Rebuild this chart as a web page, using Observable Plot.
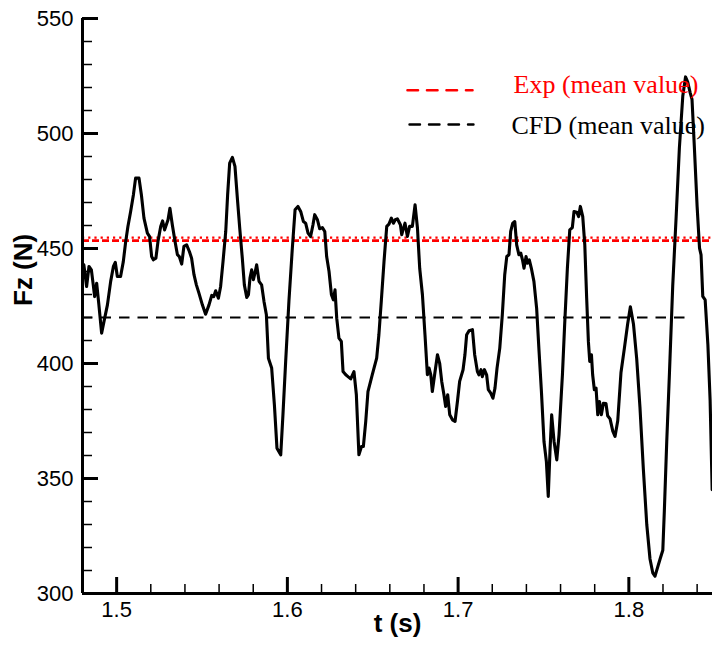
<!DOCTYPE html>
<html><head><meta charset="utf-8">
<script src="https://cdn.jsdelivr.net/npm/d3@7"></script>
<script src="https://cdn.jsdelivr.net/npm/@observablehq/plot@0.6"></script>
<style>body{margin:0;background:#fff}</style>
</head><body><div id="chart"></div>
<script>
const tValues = [
1.4808,1.4824,1.4838,1.4852,1.4863,1.4871,1.4883,1.4896,1.4912,1.4926,1.4946,1.4965,1.4981,1.4992,1.5004,1.5023,1.5039,1.5053,1.5066,1.5082,1.5098,1.5111,1.5131,1.5145,1.5160,1.5180,1.5193,1.5205,1.5215,1.5230,1.5242,1.5258,1.5269,1.5281,1.5301,1.5312,1.5326,1.5342,1.5356,1.5367,1.5381,1.5394,1.5410,1.5426,
1.5439,1.5453,1.5467,1.5482,1.5502,1.5521,1.5541,1.5557,1.5569,1.5580,1.5596,1.5609,1.5623,1.5639,1.5650,1.5662,1.5678,1.5693,1.5707,1.5721,1.5736,1.5748,1.5762,1.5772,1.5781,1.5791,1.5801,1.5814,1.5820,1.5834,1.5849,1.5863,1.5877,1.5889,1.5908,1.5924,1.5939,1.5961,1.5974,1.5990,1.6009,1.6029,1.6045,
1.6062,1.6078,1.6094,1.6107,1.6121,1.6136,1.6150,1.6160,1.6176,1.6189,1.6205,1.6219,1.6230,1.6244,1.6258,1.6269,1.6279,1.6289,1.6302,1.6316,1.6326,1.6342,1.6355,1.6371,1.6390,1.6404,1.6419,1.6434,1.6445,1.6459,1.6472,1.6497,1.6523,1.6536,1.6550,1.6566,1.6582,1.6595,1.6609,1.6621,1.6632,1.6644,
1.6662,1.6670,1.6677,1.6689,1.6703,1.6716,1.6732,1.6748,1.6762,1.6775,1.6791,1.6806,1.6820,1.6830,1.6840,1.6849,1.6865,1.6879,1.6892,1.6904,1.6917,1.6927,1.6939,1.6951,1.6967,1.6982,1.6996,1.7009,1.7029,1.7040,1.7050,1.7064,1.7084,1.7097,1.7113,1.7122,1.7134,1.7142,1.7154,1.7167,1.7177,1.7191,1.7204,1.7216,1.7228,1.7244,1.7259,
1.7273,1.7285,1.7298,1.7308,1.7320,1.7332,1.7343,1.7356,1.7367,1.7377,1.7386,1.7398,1.7406,1.7417,1.7429,1.7444,1.7460,1.7473,1.7488,1.7503,1.7517,1.7528,1.7538,1.7548,1.7562,1.7578,1.7591,1.7611,1.7624,1.7640,1.7654,1.7669,1.7679,1.7695,1.7706,1.7716,1.7730,1.7742,1.7753,1.7763,1.7771,1.7781,1.7788,1.7798,1.7808,1.7818,1.7828,1.7839,1.7851,
1.7866,1.7876,1.7890,1.7906,1.7919,1.7935,1.7954,1.7974,1.7993,1.8009,1.8027,1.8046,1.8065,1.8085,1.8105,1.8124,1.8140,1.8153,1.8165,1.8183,1.8199,1.8208,1.8222,1.8238,1.8257,1.8277,1.8296,1.8316,1.8332,1.8345,1.8359,1.8370,1.8384,1.8400,1.8414,1.8423,1.8433,1.8447,1.8463,1.8476,1.8488
];
const fzValues = [
442.9,433.5,442.2,440.7,434.2,429.1,434.9,425.5,413.2,418.3,425.5,435.7,442.2,444.0,437.8,437.8,444.3,453.0,459.6,466.1,473.3,480.6,480.6,473.3,463.2,456.7,455.2,446.5,445.1,445.8,453.0,459.6,462.0,458.1,462.5,467.5,460.3,453.0,447.3,446.5,443.2,450.9,451.6,448.7,
445.8,438.6,434.2,430.6,425.5,421.4,425.5,429.6,429.1,431.6,428.4,433.5,444.3,457.4,473.3,487.1,489.6,485.7,471.9,458.8,445.8,434.2,428.7,429.9,437.1,440.7,436.4,440.7,442.9,435.7,434.2,427.0,421.2,402.3,398.0,382.0,363.2,360.3,377.7,400.9,427.0,450.1,466.8,
468.3,466.1,461.7,461.0,456.7,455.2,460.3,464.7,462.5,458.6,459.1,457.4,446.5,440.0,429.9,427.7,432.0,419.7,411.0,409.6,396.5,395.1,394.3,393.3,396.5,386.4,360.3,363.9,363.9,374.8,387.8,395.1,402.3,412.5,427.0,444.3,459.6,460.6,463.2,461.0,462.5,462.9,
460.3,456.0,458.1,461.0,455.2,459.6,459.6,469.0,458.8,441.4,429.9,412.5,395.1,398.0,395.1,387.8,396.5,403.8,400.1,392.2,386.4,381.3,386.4,377.7,375.5,374.8,383.5,392.2,397.3,403.8,412.5,414.2,414.7,403.8,396.5,395.1,397.3,394.3,397.3,395.1,388.6,387.1,384.9,389.3,398.0,406.7,421.2,
438.6,446.5,447.3,457.4,461.0,461.7,451.6,447.3,448.0,445.1,441.4,446.5,443.6,445.1,441.4,435.7,424.0,406.7,387.8,366.1,357.4,342.2,361.7,377.7,366.1,358.1,369.0,395.1,416.8,441.4,458.1,459.1,466.1,465.8,463.9,468.3,463.9,451.6,428.4,409.6,400.9,403.8,395.1,388.6,389.3,377.7,383.5,377.7,382.7,
382.6,377.3,375.9,370.6,368.3,375.1,396.1,406.7,417.2,424.7,417.2,402.1,381.1,354.1,330.0,315.0,309.0,307.5,310.5,315.0,318.8,336.1,366.1,396.1,433.7,463.7,493.7,516.3,524.6,522.3,517.8,514.8,493.7,468.2,450.2,447.2,429.2,427.7,408.2,384.1,345.1
];
const expMean = 454;
const cfdMean = 420;
const cfdSpan = [1.48, 1.834];
const xDomain = [1.48, 1.849];
const yDomain = [300, 550];
const xTicksMajor = [1.5, 1.6, 1.7, 1.8];
const xTicksMinor = [1.52,1.54,1.56,1.58,1.62,1.64,1.66,1.68,1.72,1.74,1.76,1.78,1.82,1.84];
const yTicksMajor = [300, 350, 400, 450, 500, 550];
const yTicksMinor = [310,320,330,340,360,370,380,390,410,420,430,440,460,470,480,490,510,520,530,540];
const legendLabels = ["Exp (mean value)", "CFD (mean value)"];
const legendColors = ["#ff0000", "#000000"];
const xLabel = "t (s)";
const yLabel = "Fz (N)";

const series = tValues.map((t, i) => ({t, fz: fzValues[i]}));
const dashShape = {draw(ctx, l) { ctx.moveTo(0, 0); ctx.lineTo(0, -l); }};

const chart = Plot.plot({
  width: 712, height: 649,
  marginLeft: 82, marginRight: 0, marginTop: 18, marginBottom: 56,
  x: {domain: xDomain},
  y: {domain: yDomain},
  style: {fontFamily: "'Liberation Sans', Arial, sans-serif", background: "#fff", color: "#000", overflow: "visible"},
  marks: [
    Plot.ruleY([expMean], {stroke: legendColors[0], strokeWidth: 2.6, strokeDasharray: "7,3", dy: 1.3}),
    Plot.ruleY([expMean], {stroke: legendColors[0], strokeWidth: 2.2, strokeDasharray: "2.2,4", dy: -1.6}),
    Plot.ruleY([cfdMean], {x1: cfdSpan[0], x2: cfdSpan[1], stroke: legendColors[1], strokeWidth: 2, strokeDasharray: "10.5,8"}),
    Plot.line(series, {x: "t", y: "fz", stroke: "#000", strokeWidth: 3.1, strokeLinejoin: "round", strokeLinecap: "round"}),
    Plot.axisY(yTicksMinor, {anchor: "left", tickSize: -10, strokeWidth: 1.5, tickFormat: () => "", label: null}),
    Plot.axisY(yTicksMajor, {anchor: "left", tickSize: -16, tickPadding: 25, strokeWidth: 3, fontSize: 22, tickFormat: d => String(d), label: null}),
    Plot.axisX(xTicksMinor, {anchor: "bottom", tickSize: -9, strokeWidth: 1.5, tickFormat: () => "", label: null}),
    Plot.axisX(xTicksMajor, {anchor: "bottom", tickSize: -16, tickPadding: 24, strokeWidth: 3, fontSize: 22, tickFormat: d => d.toFixed(1), label: null}),
    Plot.ruleX([xDomain[0]], {stroke: "#000", strokeWidth: 3}),
    Plot.ruleY([yDomain[0]], {stroke: "#000", strokeWidth: 3}),
    Plot.text([yLabel], {frameAnchor: "left", rotate: -90, dx: -59, fontSize: 26, fontWeight: "bold", fill: "#000"}),
    Plot.text([xLabel], {frameAnchor: "bottom", dy: 38, fontSize: 26, fontWeight: "bold", fill: "#000"}),
    Plot.vector([0], {frameAnchor: "top-left", dx: 325, dy: 71.7, length: 65, rotate: 90, anchor: "start", shape: dashShape, stroke: legendColors[0], strokeWidth: 2.6, strokeDasharray: "10.5,9"}),
    Plot.vector([1], {frameAnchor: "top-left", dx: 327, dy: 106, length: 64, rotate: 90, anchor: "start", shape: dashShape, stroke: legendColors[1], strokeWidth: 2.4, strokeDasharray: "10.5,9"}),
    Plot.text([legendLabels[0]], {frameAnchor: "top-left", dx: 431, dy: 66.2, textAnchor: "start", lineAnchor: "middle", fontFamily: "'Liberation Serif', 'Times New Roman', serif", fontSize: 26, fill: legendColors[0]}),
    Plot.text([legendLabels[1]], {frameAnchor: "top-left", dx: 429, dy: 107.4, textAnchor: "start", lineAnchor: "middle", fontFamily: "'Liberation Serif', 'Times New Roman', serif", fontSize: 26, fill: legendColors[1]})
  ]
});
document.getElementById("chart").appendChild(chart);
</script>
</body></html>
